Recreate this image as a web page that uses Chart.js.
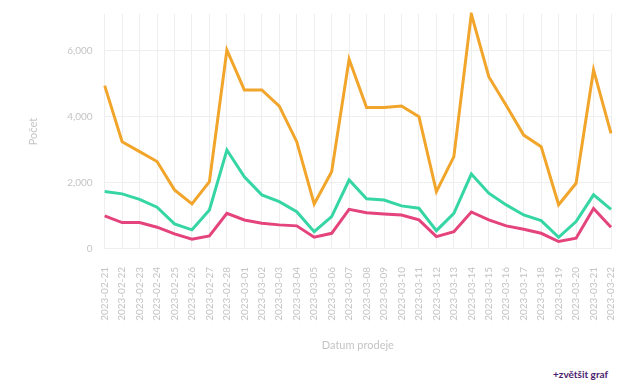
<!DOCTYPE html>
<html>
<head>
<meta charset="utf-8">
<script src="https://cdn.jsdelivr.net/npm/chart.js@4/dist/chart.umd.min.js"></script>
<style>
  html, body { margin: 0; padding: 0; background: #fff; overflow: hidden; }
  #wrap { position: relative; width: 641px; height: 390px; overflow: hidden; }
  #box { position: absolute; left: 0; top: -4px; width: 641px; height: 360px; }
  #more { position: absolute; left: 553px; top: 368px; font-family: Lato, "Open Sans", sans-serif; font-weight: 700; font-size: 10px; color: #4b1d6e; }
</style>
</head>
<body>
<div id="wrap">
  <div id="box"><canvas id="c"></canvas></div>
  <div id="more">+zvětšit graf</div>
</div>
<script>
const dates = [
  "2023-02-21","2023-02-22","2023-02-23","2023-02-24","2023-02-25","2023-02-26","2023-02-27","2023-02-28",
  "2023-03-01","2023-03-02","2023-03-03","2023-03-04","2023-03-05","2023-03-06","2023-03-07","2023-03-08",
  "2023-03-09","2023-03-10","2023-03-11","2023-03-12","2023-03-13","2023-03-14","2023-03-15","2023-03-16",
  "2023-03-17","2023-03-18","2023-03-19","2023-03-20","2023-03-21","2023-03-22"
];
const yTicks = [0, 2000, 4000, 6000];
const seriesOrange = [4950,3250,2950,2650,1790,1365,2040,6030,4820,4820,4330,3250,1365,2340,5750,4290,4290,4330,4010,1740,2800,7120,5220,4350,3450,3100,1340,1990,5425,3500];
const seriesTeal   = [1740,1670,1505,1265,760,580,1180,3000,2190,1640,1435,1130,525,980,2090,1520,1485,1305,1235,555,1080,2270,1690,1335,1030,860,355,830,1640,1200];
const seriesPink   = [1000,800,800,660,455,295,395,1080,880,780,730,700,355,475,1200,1100,1060,1030,880,375,525,1120,880,700,600,475,225,325,1230,660];

const tickColor = '#c4c4c4';
const gridColor = '#eeeeee';
const ds = (data, color) => ({ data, borderColor: color, backgroundColor: color, borderWidth: 3, pointRadius: 0, tension: 0, fill: false });

new Chart(document.getElementById('c'), {
  type: 'line',
  data: {
    labels: dates,
    datasets: [ds(seriesOrange, '#f2a52b'), ds(seriesTeal, '#35d6a4'), ds(seriesPink, '#e4437c')]
  },
  options: {
    responsive: true,
    maintainAspectRatio: false,
    animation: false,
    locale: 'en-US',
    layout: { padding: { left: 23, right: 30, top: 1, bottom: 0 } },
    plugins: { legend: { display: false }, tooltip: { enabled: false } },
    scales: {
      x: {
        grid: { color: gridColor, drawTicks: false },
        border: { color: gridColor },
        ticks: { color: tickColor, font: { family: 'Lato', size: 10 }, maxRotation: 90, minRotation: 90, autoSkip: false, padding: 18 },
        title: { display: true, text: 'Datum prodeje', color: tickColor, font: { family: 'Lato', size: 11 }, padding: { top: 0 } }
      },
      y: {
        bounds: 'data',
        beginAtZero: true,
        grid: { color: gridColor, drawTicks: false },
        border: { color: gridColor },
        afterBuildTicks: (scale) => { scale.ticks = yTicks.map(v => ({ value: v })); },
        ticks: { color: tickColor, font: { family: 'Lato', size: 10 }, padding: 12 },
        title: { display: true, text: 'Počet', color: tickColor, font: { family: 'Lato', size: 11 }, padding: { bottom: 15 } }
      }
    }
  }
});
</script>
</body>
</html>
